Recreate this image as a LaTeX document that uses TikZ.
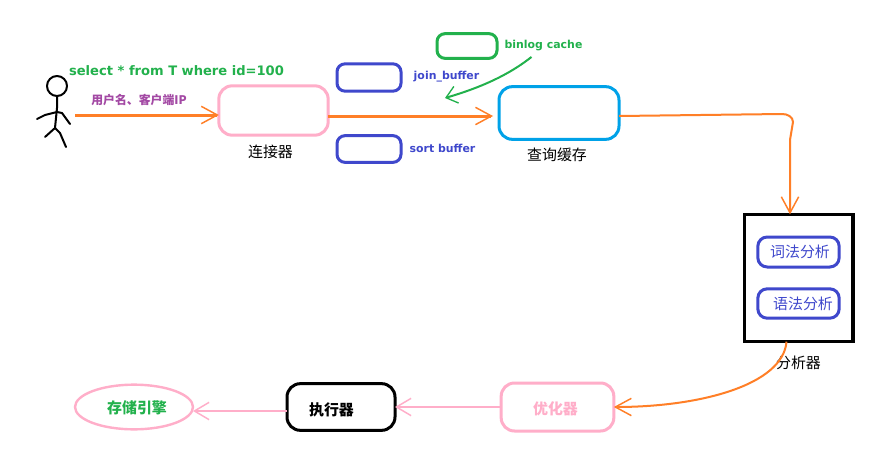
\documentclass[tikz,border=0pt]{standalone}
\usepackage{fontspec}
\setmainfont{DejaVu Sans}
\newfontfamily\cjk{Noto Sans CJK SC}
\usetikzlibrary{arrows.meta,shapes.geometric}
\definecolor{cOrange}{HTML}{FF7F27}
\definecolor{cPink}{HTML}{FFAEC9}
\definecolor{cBlue}{HTML}{3F48CC}
\definecolor{cGreen}{HTML}{22B14C}
\definecolor{cCyan}{HTML}{00A2E8}
\definecolor{cPurple}{HTML}{A349A4}
\tikzset{
  x=0.75pt,y=-0.75pt,
  box/.style={draw,rounded corners=10pt,inner sep=0pt,outer sep=0pt,line width=2.25pt},
  cn/.style={font=\cjk\fontsize{11.2}{13}\selectfont,inner sep=0pt},
  cnb/.style={font=\cjk\bfseries\fontsize{11.2}{13}\selectfont,inner sep=0pt},
  lat/.style={font=\bfseries\fontsize{8.2}{10}\selectfont,inner sep=0pt},
  barb/.style={-{Straight Barb[length=#1,width=13pt,line width=1.1pt]}},
  barb/.default=12pt,
  thick orange/.style={draw=cOrange,line width=2.25pt,barb},
  thin orange/.style={draw=cOrange,line width=1.5pt,barb},
  pink link/.style={draw=cPink,line width=1.5pt,barb=11pt},
  person/.style={line width=1.5pt,line join=round,line cap=round},
}
\begin{document}
\begin{tikzpicture}
\useasboundingbox (0,0) rectangle (896,457);
\fill[white] (0,0) rectangle (896,457);
% boxes
\node[box,draw=cPink,minimum width=82pt,minimum height=37pt] (conn) at (273.5,110.5) {};
\node[box,draw=cCyan,minimum width=90pt,minimum height=39.5pt] (cache) at (559,113) {};
\node[box,draw=cBlue,rounded corners=6pt,minimum width=48pt,minimum height=20.5pt] (join) at (369,77.5) {};
\node[box,draw=cBlue,rounded corners=6pt,minimum width=48pt,minimum height=20pt] (sort) at (369,149) {};
\node[box,draw=cGreen,rounded corners=6pt,minimum width=45pt,minimum height=18.5pt] (binlog) at (467,46) {};
\node[draw=black,line width=2.5pt,inner sep=0pt,outer sep=0pt,minimum width=81.5pt,minimum height=95.5pt] (parser) at (798.5,278) {};
\node[box,draw=cBlue,rounded corners=7pt,minimum width=61pt,minimum height=22.5pt] (lex) at (798.5,252) {};
\node[box,draw=cBlue,rounded corners=7pt,minimum width=61pt,minimum height=22pt] (syn) at (798.5,303.5) {};
\node[box,draw=cPink,minimum width=84.5pt,minimum height=36pt] (opt) at (557.5,407) {};
\node[box,draw=black,minimum width=81pt,minimum height=35pt] (exec) at (341,407) {};
\node[draw=cPink,line width=1.8pt,ellipse,inner sep=0pt,outer sep=0pt,minimum width=88.5pt,minimum height=33.5pt] (store) at (134,407) {};
% person
\draw[person] (57,86) circle (7.5pt);
\coordinate (neck) at (57,96);
\coordinate (hip) at (55,128);
\draw[person] (neck) -- (57,108) -- (hip);
\draw[person] (37,119) -- (45,115) -- (57,112) -- (62,113) -- (70,124);
\draw[person] (45,137) -- (hip) -- (60,133) -- (66,147);
\coordinate (who) at (75,115);
\coordinate (b1) at (782,114);
\coordinate (b2) at (793,122);
\coordinate (b3) at (790,140);
\coordinate (g1) at (445,98);
% texts
\node[lat,text=cGreen,font=\bfseries\fontsize{9.8}{12}\selectfont] (sql) at (176.5,71) {select * from T where id=100};
\node[cnb,text=cPurple,font=\cjk\bfseries\fontsize{8.9}{10}\selectfont] (user) at (139,100) {用户名、客户端IP};
\node[cn] (connlabel) at (270.5,152) {连接器};
\node[cn] (cachelabel) at (557,155) {查询缓存};
\node[cn] (parserlabel) at (798.5,363) {分析器};
\node[cn,text=cBlue] at (800,252) {词法分析};
\node[cn,text=cBlue] at (803,304) {语法分析};
\node[cnb,text=cPink] at (555.5,409) {优化器};
\node[cnb] at (331.5,410) {执行器};
\node[cnb,text=cGreen] at (137,408) {存储引擎};
\node[lat,text=cGreen] (binloglabel) at (543.5,46) {binlog cache};
\node[lat,text=cBlue] at (446.5,77) {join\_buffer};
\node[lat,text=cBlue] at (442.5,148) {sort buffer};
% connectors
\draw[thick orange] (who) -- (conn.west |- who);
\draw[thick orange,shorten >=4.5pt] (conn.east |- 0,116) -- (cache.west |- 0,116);
\draw[thin orange] ([yshift=-2.25pt]cache.east) -- (b1) to[out=0,in=90] (b2) -- (b3) -- (b3 |- parser.north);
\draw[thin orange] ([xshift=-9pt]parser.south) .. controls (783,385) and (700,407) .. (opt.east);
\draw[pink link] (opt.west) -- (exec.east);
\draw[pink link] (exec.west |- 0,411) -- (store.east |- 0,411);
\draw[draw=cGreen,line width=1.5pt,-{Straight Barb[length=8pt,width=13pt,line width=1pt]}] ([yshift=-4pt,xshift=-9pt]binloglabel.south) .. controls (515,70) and (490,85) .. (g1);
\end{tikzpicture}
\end{document}
